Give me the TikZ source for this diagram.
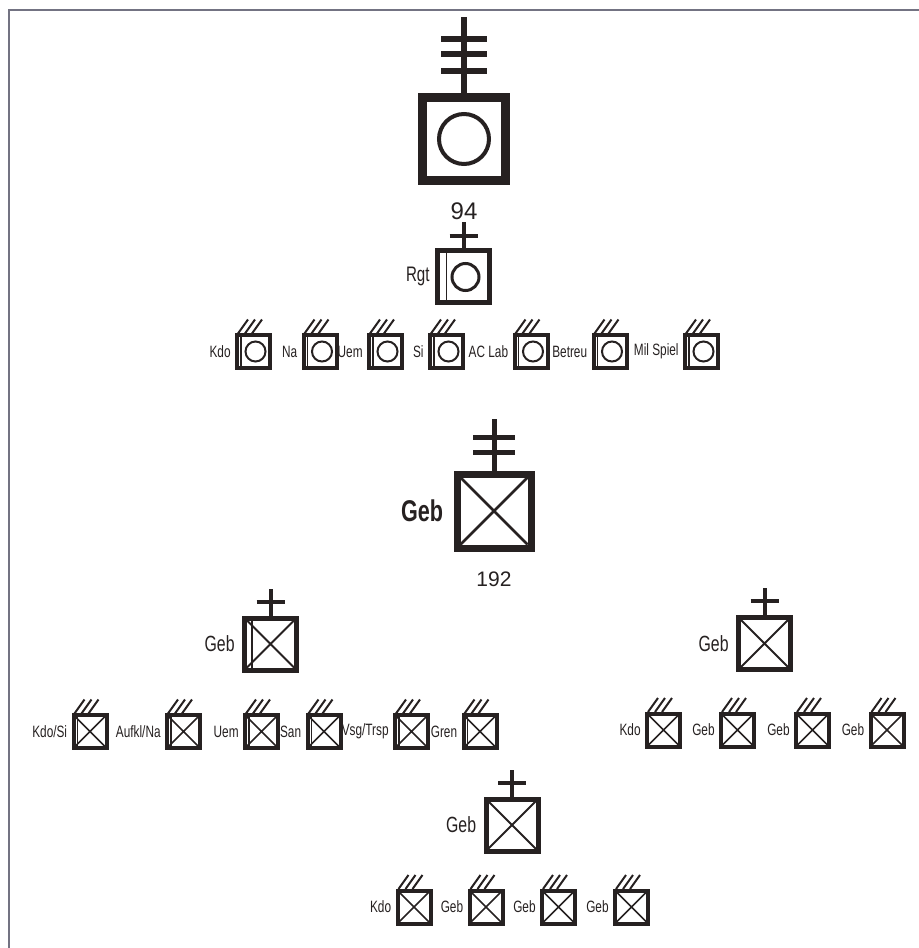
\documentclass[tikz,border=0pt]{standalone}
\usepackage{fontspec}
\setmainfont{Liberation Sans}
\newfontfamily\condfont[FakeStretch=0.72]{Liberation Sans}
\usepackage{tikz}
\usetikzlibrary{positioning}
\definecolor{ink}{RGB}{38,33,33}
\definecolor{framegray}{RGB}{115,115,130}

\begin{document}
\begin{tikzpicture}[x=0.5pt,y=-0.5pt,
  sym/.style={draw=ink,rectangle,inner sep=0pt},
  divbox/.style={sym,line width=4.5pt,minimum size=41.5pt},
  brigbox/.style={sym,line width=3.5pt,minimum size=37pt},
  midbox/.style={sym,line width=2.5pt,minimum size=26pt},
  smallbox/.style={sym,line width=2pt,minimum size=16.5pt},
  tag/.style={font=\condfont\fontsize{8.2}{9}\selectfont,text=ink,inner sep=0pt},
  midtag/.style={font=\condfont\fontsize{11}{12}\selectfont,text=ink,inner sep=0pt},
  bigtag/.style={font=\condfont\bfseries\fontsize{15}{17}\selectfont,text=ink,inner sep=0pt},
  num/.style={text=ink,inner sep=0pt},
  mast/.style={draw=ink,line width=2pt},
  hair/.style={draw=ink,line width=0.8pt},
  hatch/.style={draw=ink,line width=1pt}]

\useasboundingbox (0,0) rectangle (919,948);
\draw[framegray,line width=1pt] (9,948) -- (9,10) -- (919,10);

% division
\node[divbox] (div) at (464,139) {};
\draw[ink,line width=2pt] (div.center) circle (12.5pt);
\draw[mast,line width=3.25pt] (div.north) -- ++(0,-76);
\foreach \dy in {-54,-39,-22}
  \draw[mast,line width=3.25pt] ([shift={(-23,\dy)}]div.north) -- ++(46,0);
\node[num,font=\fontsize{12}{14}\selectfont,below=8.5pt of div] (div-n) {94};

% regiment
\node[midbox] (rgt) at (463.5,276.5) {};
\node[midtag,font=\condfont\fontsize{10.5}{12}\selectfont,left=2.5pt of rgt] (rgt-t) {Rgt};
\begin{scope}[shift={(rgt.center)}]
  \draw[hair] (-17,-23.5) -- (-17,23.5);
  \draw[ink,line width=1.5pt] (2,0.5) circle (6.75pt);
\end{scope}
\draw[mast] (rgt.north) -- ++(0,-26);
\draw[mast] ([shift={(-14,-12)}]rgt.north) -- ++(28,0);

% regiment units
\foreach \x/\txt [count=\i] in {253.5/Kdo,320/Na,385.5/Uem,446.5/Si,531/AC Lab,610/Betreu,701.5/Mil Spiel}{
  \node[smallbox] (ra\i) at (\x,351.5) {};
  \node[tag,left=2pt of ra\i] (ra\i-t) {\txt};
  \begin{scope}[shift={(ra\i.center)}]
    \foreach \k in {0,1,2}
      \draw[hatch] ({-15.5+7*\k},-18) -- ++(10,-14);
    \draw[hair] (-12.5,-16.5) -- (-12.5,16.5);
    \draw[ink,line width=1pt] (2,0) circle (5pt);
  \end{scope}
}

% brigade
\node[brigbox] (brig) at (494,511) {};
\node[bigtag,left=5pt of brig] (brig-t) {Geb};
\draw[ink,line width=1.25pt] ([shift={(-33.5,-33.5)}]brig.center) -- ([shift={(33.5,33.5)}]brig.center)
  ([shift={(33.5,-33.5)}]brig.center) -- ([shift={(-33.5,33.5)}]brig.center);
\draw[mast,line width=2.5pt] (brig.north) -- ++(0,-52);
\foreach \dy in {-33,-18}
  \draw[mast,line width=2.5pt] ([shift={(-21,\dy)}]brig.north) -- ++(42,0);
\node[num,font=\fontsize{10.5}{12}\selectfont,below=10pt of brig] (brig-n) {192};

% battalions
\foreach \nm/\x/\y in {bata/270.5/644,batb/764.5/643.5,batc/512/825}{
  \node[midbox] (\nm) at (\x,\y) {};
  \node[midtag,left=3.5pt of \nm] (\nm-t) {Geb};
  \draw[ink,line width=1pt] ([shift={(-26,-26)}]\nm.center) -- ([shift={(26,26)}]\nm.center)
    ([shift={(26,-26)}]\nm.center) -- ([shift={(-26,26)}]\nm.center);
  \draw[mast] (\nm.north) -- ++(0,-27);
  \draw[mast] ([shift={(-14,-14)}]\nm.north) -- ++(28,0);
}
\draw[hair] ([shift={(-18.5,-26)}]bata.center) -- ++(0,52);

% companies, left battalion
\foreach \x/\txt [count=\i] in {90/{Kdo/Si},183.5/{Aufkl/Na},261.5/Uem,324/San,411.5/{Vsg/Trsp},480/Gren}{
  \node[smallbox] (la\i) at (\x,731.5) {};
  \node[tag,left=2pt of la\i] (la\i-t) {\txt};
  \begin{scope}[shift={(la\i.center)}]
    \foreach \k in {0,1,2}
      \draw[hatch] ({-15.5+7*\k},-18) -- ++(10,-14);
    \draw[hair] (-12.5,-16.5) -- (-12.5,16.5);
    \draw[hair] (-16.5,-16.5) -- (16.5,16.5) (16.5,-16.5) -- (-16.5,16.5);
  \end{scope}
}

% companies, right battalion
\foreach \x/\txt [count=\i] in {663.5/Kdo,737.5/Geb,812.5/Geb,887/Geb}{
  \node[smallbox] (rb\i) at (\x,730) {};
  \node[tag,left=2pt of rb\i] (rb\i-t) {\txt};
  \begin{scope}[shift={(rb\i.center)}]
    \foreach \k in {0,1,2}
      \draw[hatch] ({-15.5+7*\k},-18) -- ++(10,-14);
    \draw[hair] (-16.5,-16.5) -- (16.5,16.5) (16.5,-16.5) -- (-16.5,16.5);
  \end{scope}
}

% companies, bottom battalion
\foreach \x/\txt [count=\i] in {414/Kdo,486/Geb,558.5/Geb,631.5/Geb}{
  \node[smallbox] (bb\i) at (\x,907) {};
  \node[tag,left=2pt of bb\i] (bb\i-t) {\txt};
  \begin{scope}[shift={(bb\i.center)}]
    \foreach \k in {0,1,2}
      \draw[hatch] ({-15.5+7*\k},-18) -- ++(10,-14);
    \draw[hair] (-16.5,-16.5) -- (16.5,16.5) (16.5,-16.5) -- (-16.5,16.5);
  \end{scope}
}

\end{tikzpicture}
\end{document}
